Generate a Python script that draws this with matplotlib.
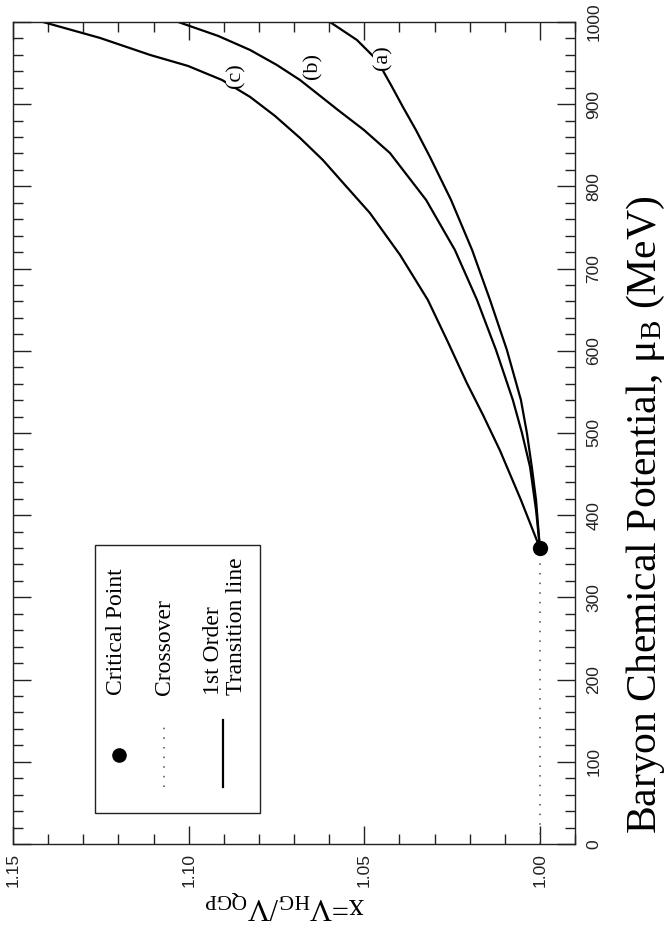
import numpy as np
import matplotlib.pyplot as plt
from matplotlib.patches import Rectangle
from matplotlib.ticker import MultipleLocator

plt.rcParams['font.family'] = ['Liberation Serif', 'DejaVu Serif']
plt.rcParams['mathtext.fontset'] = 'custom'
plt.rcParams['mathtext.rm'] = 'Liberation Serif'
plt.rcParams['mathtext.it'] = 'Liberation Serif:italic'

# ---- data: mu_B (MeV) vs x = V_HG / V_QGP ----
mu_a = [360, 418.5, 458.6, 500, 540.1, 601, 661.8, 722.6, 783.5, 835.8,
        868.6, 896.6, 923.4, 953.8, 978.1, 1000]
x_a = [1.0000, 1.0011, 1.0023, 1.0037, 1.0054, 1.0094, 1.0142, 1.0193, 1.0253,
       1.0313, 1.0353, 1.0390, 1.0424, 1.0464, 1.0521, 1.0598]

mu_b = [360, 406.3, 458.6, 500, 540.1, 601, 661.8, 722.6, 783.5, 840.6,
        868.6, 892.9, 911.2, 929.4, 947.7, 965.9, 983, 1000]
x_b = [1.0000, 1.0011, 1.0028, 1.0051, 1.0077, 1.0125, 1.0179, 1.0242, 1.0324,
       1.0427, 1.0501, 1.0575, 1.0629, 1.0683, 1.0749, 1.0825, 1.0916, 1.1030]

mu_c = [360, 418.5, 479, 521.9, 560.8, 610.7, 661.8, 716.5, 767.6, 801.7,
        832.1, 858.9, 885.6, 908.8, 929.4, 946.5, 959.9, 980.5, 1000]
x_c = [1.0000, 1.0054, 1.0114, 1.0162, 1.0208, 1.0262, 1.0319, 1.0398, 1.0484,
       1.0555, 1.0618, 1.0683, 1.0754, 1.0825, 1.0905, 1.1002, 1.1110, 1.1252,
       1.1415]

crit_mu = 360
crit_x = 1.00
cross_mu = [0, 360]
cross_x = [1.00, 1.00]

curve_names = ['(a)', '(b)', '(c)']
label_x = [1.0447, 1.0646, 1.0865]
label_mu = [956, 946, 935]

xticks = [1.15, 1.10, 1.05, 1.00]
xtick_labels = ['1.15', '1.10', '1.05', '1.00']

tick_font = ['Liberation Sans Narrow', 'Liberation Sans', 'DejaVu Sans']

fig = plt.figure(figsize=(6.67, 9.30), dpi=100)
ax = fig.add_axes([0.0195, 0.0925, 0.8426, 0.8839])

# curves (the whole figure is drawn turned by 90 degrees)
for xs, ms in [(x_a, mu_a), (x_b, mu_b), (x_c, mu_c)]:
    ax.plot(xs, ms, color='black', lw=1.6, solid_joinstyle='round')

ax.plot(cross_x, cross_mu, color='0.3', lw=1.1, linestyle=(0, (1, 5.3)))
ax.plot([crit_x], [crit_mu], 'o', color='black', ms=10, zorder=5, clip_on=False)

for name, lx, lm in zip(curve_names, label_x, label_mu):
    ax.text(lx, lm, name, rotation=90, ha='center', va='center', fontsize=16,
            bbox=dict(facecolor='white', edgecolor='none', pad=0.5), zorder=4)

ax.set_xlim(1.15, 0.99)
ax.set_ylim(0, 1000)
ax.set_xticks(xticks)
ax.set_xticklabels(xtick_labels)
ax.xaxis.set_minor_locator(MultipleLocator(0.01))
ax.yaxis.set_major_locator(MultipleLocator(100))
ax.yaxis.set_minor_locator(MultipleLocator(20))

ax.tick_params(which='both', direction='in', top=True, bottom=True,
               left=True, right=True, labelleft=False, labelright=True,
               color='#222222')
ax.tick_params(which='major', length=13, width=1)
ax.tick_params(which='minor', length=7.5, width=1)
ax.tick_params(axis='x', labelrotation=90, pad=6.5)
ax.tick_params(axis='y', labelrotation=90, pad=8)
for lbl in ax.get_xticklabels() + ax.get_yticklabels():
    lbl.set_fontfamily(tick_font)
    lbl.set_fontsize(12.5)
    lbl.set_color('#222222')
for lbl in ax.get_yticklabels():
    lbl.set_va('center')
for sp in ax.spines.values():
    sp.set_color('#222222')
    sp.set_linewidth(1.0)

# legend box, drawn by hand because it is turned as well
ax.add_patch(Rectangle((0.146, 0.0377), 0.2935, 0.326, transform=ax.transAxes,
                       fill=False, edgecolor='#222222', lw=1.0))
ax.plot([0.1886], [0.1083], 'o', color='black', ms=9.5, transform=ax.transAxes)
ax.plot([0.2687, 0.2687], [0.0693, 0.147], color='0.3', lw=1.1,
        linestyle=(0, (1, 5.3)), transform=ax.transAxes)
ax.plot([0.3737, 0.3737], [0.0693, 0.151], color='black', lw=1.6,
        transform=ax.transAxes)
ax.text(0.185, 0.181, 'Critical Point', rotation=90, ha='center', va='bottom',
        fontsize=17, transform=ax.transAxes)
ax.text(0.2687, 0.181, 'Crossover', rotation=90, ha='center', va='bottom',
        fontsize=17, transform=ax.transAxes)
ax.text(0.357, 0.181, '1st Order', rotation=90, ha='center', va='bottom',
        fontsize=17, transform=ax.transAxes)
ax.text(0.397, 0.181, 'Transition line', rotation=90, ha='center', va='bottom',
        fontsize=17, transform=ax.transAxes)

# axis titles
fig.text(646 / 667, 1 - 515 / 930, r'Baryon Chemical Potential, $\mathrm{\mu_B}$ (MeV)',
         rotation=90, ha='center', va='center', fontsize=30)
fig.text(285 / 667, 1 - 905 / 930, r'x=V$_\mathrm{HG}$/V$_\mathrm{QGP}$',
         rotation=180, ha='center', va='center', fontsize=22)

fig.savefig('out.png', dpi=100)
